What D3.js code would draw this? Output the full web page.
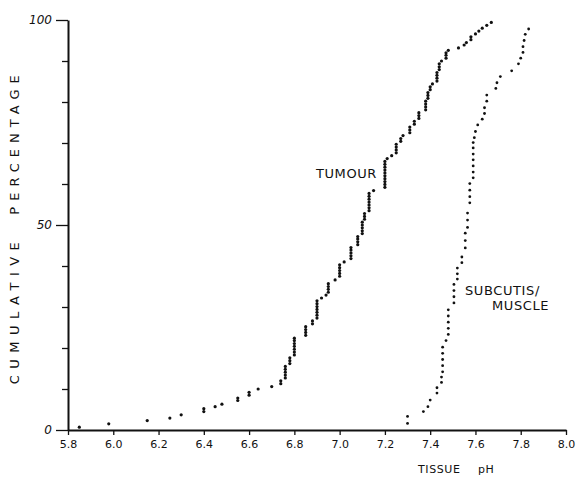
<!DOCTYPE html>
<html>
<head>
<meta charset="utf-8">
<script src="https://cdn.jsdelivr.net/npm/d3@7"></script>
<style>
  body { margin: 0; background: #fff; }
  svg { display: block; font-family: "DejaVu Sans", sans-serif; }
  .axis path, .axis line { stroke: #111; }
  .axis text { fill: #111; font-size: 11px; font-family: "DejaVu Sans", sans-serif; }
  .lbl { fill: #111; font-size: 13px; letter-spacing: 0.6px; }
</style>
</head>
<body>
<svg width="579" height="484"></svg>
<script>
// [pH, cumulative %]
const tumour = [
  [5.85,0.7],[5.98,1.5],[6.15,2.3],[6.25,2.9],[6.30,3.7],
  [6.40,4.5],[6.40,5.2],[6.45,5.7],[6.48,6.3],[6.55,7.2],[6.55,7.8],
  [6.60,8.5],[6.60,9.2],[6.64,10.0],[6.70,10.6],[6.74,11.3],[6.74,12.0],
  [6.76,12.7],[6.76,13.4],[6.76,14.1],[6.76,14.8],[6.76,15.5],
  [6.78,16.2],[6.78,16.9],[6.78,17.6],
  [6.80,18.3],[6.80,19.0],[6.80,19.7],[6.80,20.4],[6.80,21.1],[6.80,21.8],[6.80,22.4],
  [6.85,23.1],[6.85,23.8],[6.85,24.5],[6.85,25.2],
  [6.88,25.9],[6.88,26.6],
  [6.90,27.3],[6.90,28.0],[6.90,28.7],[6.90,29.4],[6.90,30.1],[6.90,30.8],[6.90,31.5],
  [6.92,32.2],[6.94,32.9],
  [6.95,33.6],[6.95,34.3],[6.95,35.0],[6.95,35.7],
  [6.98,36.6],
  [7.00,37.5],[7.00,38.2],[7.00,38.9],[7.00,39.6],[7.00,40.3],
  [7.02,41.0],
  [7.05,41.8],[7.05,42.5],[7.05,43.2],[7.05,43.9],[7.05,44.5],
  [7.08,45.2],[7.08,45.9],[7.08,46.6],[7.08,47.2],
  [7.10,47.9],[7.10,48.6],[7.10,49.3],[7.10,50.0],[7.10,50.7],
  [7.11,51.4],[7.11,52.1],[7.11,52.8],
  [7.13,53.5],[7.13,54.2],[7.13,54.9],[7.13,55.6],[7.13,56.3],[7.13,57.0],[7.13,57.7],
  [7.15,58.4],
  [7.20,59.2],[7.20,59.9],[7.20,60.6],[7.20,61.3],[7.20,62.0],[7.20,62.7],[7.20,63.4],[7.20,64.1],[7.20,64.8],[7.20,65.5],
  [7.21,66.2],[7.23,66.9],
  [7.25,67.6],[7.25,68.3],[7.25,69.0],[7.25,69.7],
  [7.27,70.4],[7.27,71.1],[7.28,71.8],
  [7.31,72.5],[7.31,73.2],[7.31,73.9],
  [7.33,74.6],[7.33,75.3],
  [7.35,76.0],[7.35,76.7],[7.35,77.4],
  [7.38,78.1],[7.38,78.8],[7.38,79.5],[7.38,80.2],
  [7.39,80.9],[7.39,81.6],[7.39,82.3],
  [7.40,83.0],[7.40,83.7],[7.41,84.4],
  [7.43,85.1],[7.43,85.8],[7.43,86.5],[7.43,87.2],
  [7.44,87.9],[7.44,88.6],[7.44,89.3],[7.45,90.0],
  [7.47,90.7],[7.47,91.4],[7.47,92.0],[7.48,92.6],
  [7.525,93.2],[7.55,93.9],[7.56,94.5],[7.58,95.2],[7.58,95.9],
  [7.60,96.6],[7.615,97.3],[7.63,98.0],[7.65,98.7],[7.67,99.4]
]

const muscle = [
  [7.30,1.6],[7.30,3.3],[7.37,4.5],[7.39,5.7],[7.40,7.3],
  [7.43,9.0],[7.43,10.3],[7.45,11.6],[7.45,12.9],
  [7.455,14.2],[7.455,15.7],[7.455,17.2],[7.455,18.7],[7.455,20.2],
  [7.47,21.8],
  [7.48,23.3],[7.48,24.8],[7.48,26.3],[7.48,27.8],[7.48,29.3],
  [7.505,31.0],[7.505,32.5],[7.505,34.0],[7.505,35.5],
  [7.52,36.8],[7.52,38.1],[7.52,39.5],
  [7.54,40.8],[7.54,42.2],
  [7.555,44.4],[7.555,46.2],[7.555,48.0],
  [7.565,49.4],[7.565,51.2],[7.565,52.9],
  [7.575,55.4],[7.575,56.9],[7.575,58.5],[7.575,60.1],
  [7.59,61.5],[7.59,62.9],[7.59,64.4],[7.59,65.9],[7.59,67.3],[7.59,68.8],[7.59,70.1],
  [7.595,71.3],[7.60,72.8],[7.61,74.4],[7.63,75.8],[7.64,77.2],[7.64,78.6],
  [7.65,80.2],[7.65,81.7],[7.69,83.3],[7.695,84.7],[7.71,86.2],
  [7.76,87.6],[7.79,89.3],[7.80,90.7],[7.81,92.1],[7.81,93.5],
  [7.815,95.0],[7.82,96.5],[7.835,97.8]
]

const xTicks = [5.8,6.0,6.2,6.4,6.6,6.8,7.0,7.2,7.4,7.6,7.8,8.0]
const yTicks = [0,10,20,30,40,50,60,70,80,90,100]
const yLabels = [0,50,100]

const svg = d3.select('svg')

const x = d3.scaleLinear().domain([5.8,8.0]).range([68,566])
const y = d3.scaleLinear().domain([0,100]).range([430,20])

/* Axes */
const $x = svg.append('g').classed('axis',true)
  .attr('transform',`translate(0,${y(0)})`)
  .call(d3.axisBottom(x).tickValues(xTicks).tickFormat(d3.format('.1f')).tickSize(5).tickSizeOuter(0).tickPadding(5))
$x.select('.domain').attr('stroke-width',2)
$x.selectAll('line').attr('stroke-width',1.3)

const $y = svg.append('g').classed('axis',true)
  .attr('transform',`translate(${x(5.8)},0)`)
  .call(d3.axisLeft(y).tickValues(yTicks).tickFormat(d => yLabels.includes(d) ? d : '').tickSizeOuter(0).tickPadding(4))
$y.select('.domain').attr('stroke-width',2)
$y.selectAll('.tick line')
  .attr('x2',d => yLabels.includes(d) ? -12 : -6)
  .attr('stroke-width',1.3)
$y.selectAll('.tick text')
  .attr('x',-16)
  .style('font-size','12px')
  .style('font-style','italic')

/* Points */
svg.append('g').selectAll('circle').data(tumour)
  .enter().append('circle')
  .attr('cx',d => x(d[0]))
  .attr('cy',d => y(d[1]))
  .attr('r',1.6)
  .attr('fill','#111')

svg.append('g').selectAll('circle').data(muscle)
  .enter().append('circle')
  .attr('cx',d => x(d[0]))
  .attr('cy',d => y(d[1]))
  .attr('r',1.4)
  .attr('fill','#111')

/* Labels */
svg.append('text').classed('lbl',true)
  .attr('x',377).attr('y',178)
  .attr('text-anchor','end')
  .text('TUMOUR')

svg.append('text').classed('lbl',true)
  .attr('x',465).attr('y',295)
  .text('SUBCUTIS/')

svg.append('text').classed('lbl',true)
  .attr('x',492).attr('y',310)
  .text('MUSCLE')

const ylab = svg.append('g').attr('transform','translate(19,232) rotate(-90)')
ylab.append('text').classed('lbl',true)
  .attr('x',-78).attr('text-anchor','middle')
  .style('letter-spacing','6.5px')
  .text('CUMULATIVE')
ylab.append('text').classed('lbl',true)
  .attr('x',90).attr('text-anchor','middle')
  .style('letter-spacing','6px')
  .text('PERCENTAGE')

svg.append('text').classed('lbl',true)
  .attr('x',418).attr('y',473)
  .style('font-size','11px')
  .text('TISSUE')
svg.append('text').classed('lbl',true)
  .attr('x',478).attr('y',473)
  .style('font-size','11px')
  .text('pH')
</script>
</body>
</html>
